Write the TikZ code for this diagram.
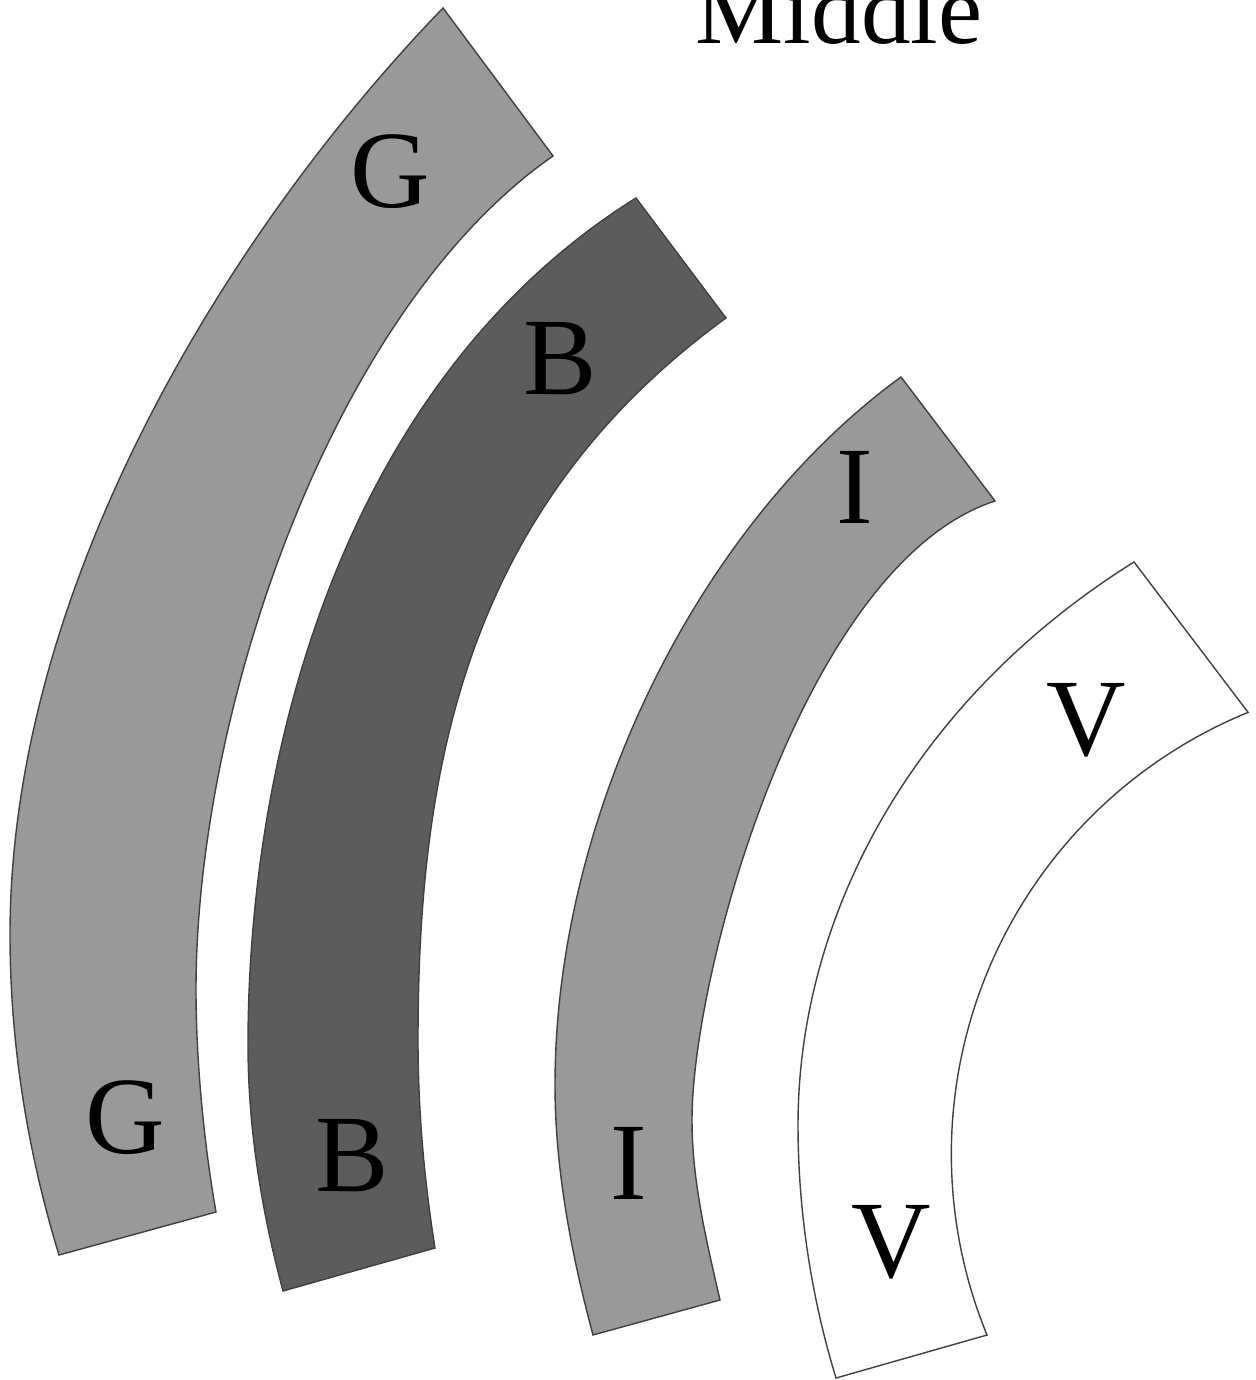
\documentclass[tikz,border=0pt]{standalone}
\usepackage{fontspec}
\setmainfont{Liberation Serif}
\definecolor{lightband}{HTML}{999999}
\definecolor{darkband}{HTML}{5C5C5C}
\definecolor{bandline}{HTML}{404040}

\begin{document}
\begin{tikzpicture}[x=0.01cm, y=-0.01cm,
        band/.style={draw=bandline, line width=0.4pt},
        letter/.style={anchor=base, inner sep=0pt, font=\fontsize{31.3}{36}\selectfont}]
    \useasboundingbox (0,0) rectangle (1255,1380);

    % G band
    \draw[band, fill=lightband] (443,8) .. controls (234.6,223.8) and (10,580) .. (10,935)
        .. controls (10,1043) and (27.4,1151.7) .. (59,1255) -- (216,1212)
        .. controls (203.8,1143.1) and (196,1060) .. (196,990)
        .. controls (196,710) and (331.8,309.9) .. (553,156) -- cycle;

    % B band
    \draw[band, fill=darkband] (636,198) .. controls (347.7,378.2) and (248,745) .. (248,1045)
        .. controls (248,1128) and (261.5,1210.8) .. (283,1291) -- (435,1248)
        .. controls (424,1178.9) and (418,1110) .. (418,1040)
        .. controls (418,765) and (467.1,506.2) .. (726,318) -- cycle;

    % I band
    \draw[band, fill=lightband] (901,377) .. controls (698.7,524) and (555,815) .. (555,1085)
        .. controls (555,1169) and (571.3,1253.9) .. (593,1335) -- (720,1300)
        .. controls (706.3,1240.6) and (692,1181) .. (692,1120)
        .. controls (692,970) and (804.8,562.8) .. (995,501) -- cycle;

    % V band
    \draw[band, fill=white] (1134,562) .. controls (913.5,699.8) and (798,915) .. (798,1125)
        .. controls (798,1210) and (811.1,1296.7) .. (836,1378) -- (987,1335)
        arc[start angle=157.7, end angle=247.8, radius=477] -- cycle;

    % labels
    \node[letter] (Gtop) at (390,208) {G};
    \node[letter] (Btop) at (560,395) {B};
    \node[letter] (Itop) at (855,524) {I};
    \node[letter] (Vtop) at (1086,755) {V};
    \node[letter] (Gbot) at (125,1153) {G};
    \node[letter] (Bbot) at (352,1191) {B};
    \node[letter] (Ibot) at (629,1199) {I};
    \node[letter] (Vbot) at (891,1277) {V};

    \node[anchor=base, inner sep=0pt, font=\fontsize{28.2}{34}\selectfont] (middle) at (839,44) {Middle};
\end{tikzpicture}
\end{document}
